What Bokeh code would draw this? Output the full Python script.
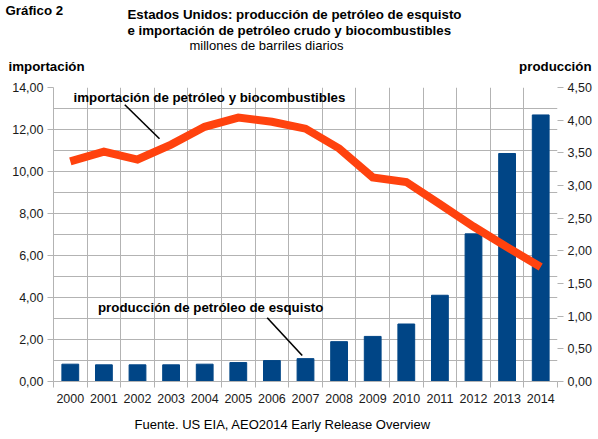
from bokeh.plotting import figure
from bokeh.layouts import column
from bokeh.models import Range1d, LinearAxis, FixedTicker, CustomJSTickFormatter, Label
from bokeh.core.properties import value
from bokeh.embed import file_html
from bokeh.resources import INLINE

# ---- data ----
years = [2000, 2001, 2002, 2003, 2004, 2005, 2006, 2007, 2008, 2009, 2010, 2011, 2012, 2013, 2014]
produccion = [0.265, 0.255, 0.255, 0.255, 0.265, 0.29, 0.32, 0.35, 0.61, 0.69, 0.88, 1.32, 2.26, 3.49, 4.08]
importacion = [10.48, 10.95, 10.57, 11.28, 12.13, 12.57, 12.37, 12.04, 11.10, 9.72, 9.50, 8.45, 7.38, 6.40, 5.45]
left_ticks = [0, 2, 4, 6, 8, 10, 12, 14]
left_grid = list(range(0, 15))
right_ticks = [0, 0.5, 1, 1.5, 2, 2.5, 3, 3.5, 4, 4.5]

FONT = "Liberation Sans"
GRID = "#b3b3b3"
TXT = "#1a1a1a"
BOLD_SIZE = "13.3px"
W = 598
TOP_H = 74
MAIN_H = 337
BOT_H = 439 - TOP_H - MAIN_H

boundaries = [y - 0.5 for y in years] + [years[-1] + 0.5]


def text_strip(height, y_offset):
    f = figure(width=W, height=height, output_backend="svg", toolbar_location=None,
               x_range=Range1d(0, W), y_range=Range1d(y_offset + height, y_offset),
               x_axis_type=None, y_axis_type=None, min_border=0, frame_align=False)
    f.outline_line_color = None
    f.xgrid.visible = False
    f.ygrid.visible = False
    return f


def strip_text(f, txt, x, y, bold=True, align="left"):
    f.text(x=[x], y=[y], text=[txt], text_font=value(FONT),
           text_font_size=BOLD_SIZE if bold else "13px",
           text_font_style="bold" if bold else "normal", text_color="black",
           text_align=align, text_baseline="middle")


# ---- top strip: titles ----
top = text_strip(TOP_H, 0)
strip_text(top, "Gráfico 2", 5, 10)
strip_text(top, "Estados Unidos: producción de petróleo de esquisto", 127, 14)
strip_text(top, "e importación de petróleo crudo y biocombustibles", 127, 29.5)
strip_text(top, "millones de barriles diarios", 189, 44.5, bold=False)
strip_text(top, "importación", 8, 66)
strip_text(top, "producción", 591, 66, align="right")

# ---- main chart ----
p = figure(width=W, height=MAIN_H, output_backend="svg", toolbar_location=None,
           x_range=Range1d(years[0] - 0.5, years[-1] + 0.5), y_range=Range1d(0, 14),
           min_border_left=53, min_border_right=41, min_border_top=13, min_border_bottom=30,
           frame_align=False)
p.outline_line_color = None
p.extra_y_ranges = {"prod": Range1d(0, 4.5)}

fmt = CustomJSTickFormatter(code="return tick.toFixed(2).replace('.', ',');")

xa = p.xaxis[0]
xa.ticker = FixedTicker(ticks=years, minor_ticks=boundaries)
xa.major_tick_line_color = None
xa.minor_tick_line_color = GRID
xa.minor_tick_out = 6
xa.minor_tick_in = 0
xa.axis_line_color = GRID
xa.major_label_text_font = FONT
xa.major_label_text_font_size = "12.5px"
xa.major_label_text_color = TXT
xa.major_label_standoff = 6

ya = p.yaxis[0]
ya.ticker = FixedTicker(ticks=left_ticks)
ya.formatter = fmt
ya.axis_line_color = GRID
ya.major_tick_line_color = GRID
ya.major_tick_out = 6
ya.major_tick_in = 0
ya.minor_tick_line_color = None
ya.major_label_text_font = FONT
ya.major_label_text_font_size = "12.5px"
ya.major_label_text_color = TXT
ya.major_label_standoff = 4

ra = LinearAxis(y_range_name="prod", ticker=FixedTicker(ticks=right_ticks), formatter=fmt)
ra.axis_line_color = None
ra.major_tick_line_color = GRID
ra.major_tick_out = 6
ra.major_tick_in = 0
ra.minor_tick_line_color = None
ra.major_label_text_font = FONT
ra.major_label_text_font_size = "12.5px"
ra.major_label_text_color = TXT
ra.major_label_standoff = 4
p.add_layout(ra, "right")

p.xgrid.ticker = FixedTicker(ticks=boundaries)
p.xgrid.grid_line_color = GRID
p.ygrid.ticker = FixedTicker(ticks=left_grid)
p.ygrid.grid_line_color = GRID

p.vbar(x=years, top=produccion, width=0.5, y_range_name="prod",
       fill_color="#004586", line_color="#004586")
p.line(x=years, y=importacion, line_color="#ff420e", line_width=8, line_join="miter")

# reference pixel -> data coordinates for in-plot annotations
X0, PXX = 53.0, 33.6
Y0, PXY = 381.0, 21.0


def dx(xr):
    return years[0] - 0.5 + (xr - X0) / PXX


def dy(yr):
    return (Y0 - yr) / PXY


for txt, xr, yr in [("importación de petróleo y biocombustibles", 73, 96.5),
                    ("producción de petróleo de esquisto", 97.5, 307)]:
    p.add_layout(Label(x=dx(xr), y=dy(yr), text=txt, text_font=FONT, text_font_size=BOLD_SIZE,
                       text_font_style="bold", text_color="black",
                       text_align="left", text_baseline="middle"))

p.segment(x0=[dx(124.3), dx(266.7)], y0=[dy(104.3), dy(317.3)],
          x1=[dx(159.0), dx(301.7)], y1=[dy(138.3), dy(355.0)],
          line_color="black", line_width=1.6)

# ---- bottom strip: source ----
bot = text_strip(BOT_H, TOP_H + MAIN_H)
strip_text(bot, "Fuente. US EIA, AEO2014 Early Release Overview", 134, 423.5, bold=False)

layout = column(top, p, bot, spacing=0)
open("out.html", "w").write(file_html(layout, INLINE))
